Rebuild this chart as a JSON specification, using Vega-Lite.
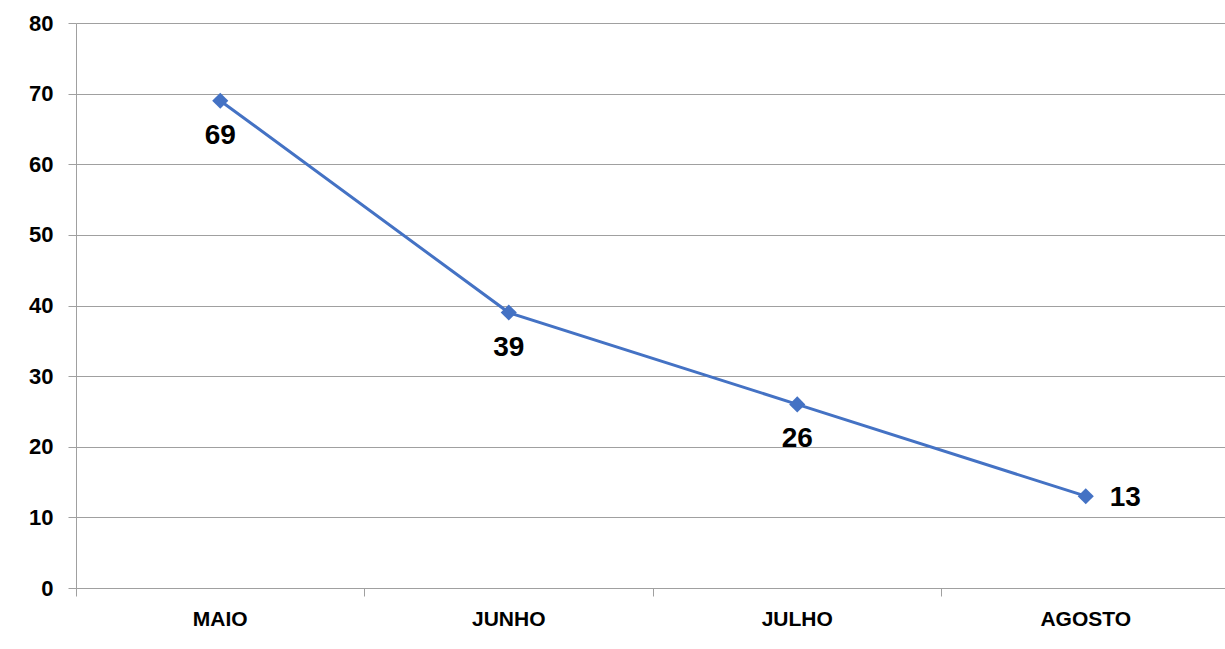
{
  "$schema": "https://vega.github.io/schema/vega-lite/v6.json",
  "autosize": {"type": "none"},
  "padding": {"left": 76, "top": 23, "right": 0, "bottom": 61},
  "width": 1154,
  "height": 565,
  "background": "white",
  "config": {"view": {"stroke": null}, "font": "Liberation Sans"},
  "data": {"values": [
    {"mes": "MAIO", "valor": 69, "pos": "below"},
    {"mes": "JUNHO", "valor": 39, "pos": "below"},
    {"mes": "JULHO", "valor": 26, "pos": "below"},
    {"mes": "AGOSTO", "valor": 13, "pos": "right"}
  ]},
  "encoding": {
    "x": {"field": "mes", "type": "nominal", "sort": null,
      "scale": {"type": "band", "paddingInner": 0, "paddingOuter": 0},
      "axis": {"title": null, "labelAngle": 0, "bandPosition": 0,
        "labelFont": "Liberation Sans", "labelFontWeight": "bold", "labelFontSize": 21, "labelColor": "#000000",
        "labelPadding": 12, "domainColor": "#a0a0a0", "domainWidth": 1, "tickColor": "#a0a0a0", "tickSize": 8,
        "grid": false}},
    "y": {"field": "valor", "type": "quantitative",
      "scale": {"domain": [0, 80], "nice": false},
      "axis": {"title": null, "values": [0, 10, 20, 30, 40, 50, 60, 70, 80],
        "labelFont": "Liberation Sans", "labelFontWeight": "bold", "labelFontSize": 22, "labelColor": "#000000",
        "labelPadding": 15, "domainColor": "#a0a0a0", "tickColor": "#a0a0a0", "tickSize": 8,
        "gridColor": "#a0a0a0", "gridWidth": 1}}
  },
  "layer": [
    {"mark": {"type": "line", "color": "#4472C4", "strokeWidth": 3}},
    {"mark": {"type": "point", "shape": "diamond", "filled": true, "color": "#4472C4", "size": 260, "opacity": 1}},
    {"transform": [{"filter": "datum.pos === 'below'"}],
      "mark": {"type": "text", "baseline": "top", "dy": 21, "fontSize": 28, "fontWeight": "bold", "color": "#000000", "font": "Liberation Sans"},
      "encoding": {"text": {"field": "valor", "type": "quantitative"}}},
    {"transform": [{"filter": "datum.pos === 'right'"}],
      "mark": {"type": "text", "align": "left", "baseline": "middle", "dx": 24, "dy": 2, "fontSize": 28, "fontWeight": "bold", "color": "#000000", "font": "Liberation Sans"},
      "encoding": {"text": {"field": "valor", "type": "quantitative"}}}
  ]
}
